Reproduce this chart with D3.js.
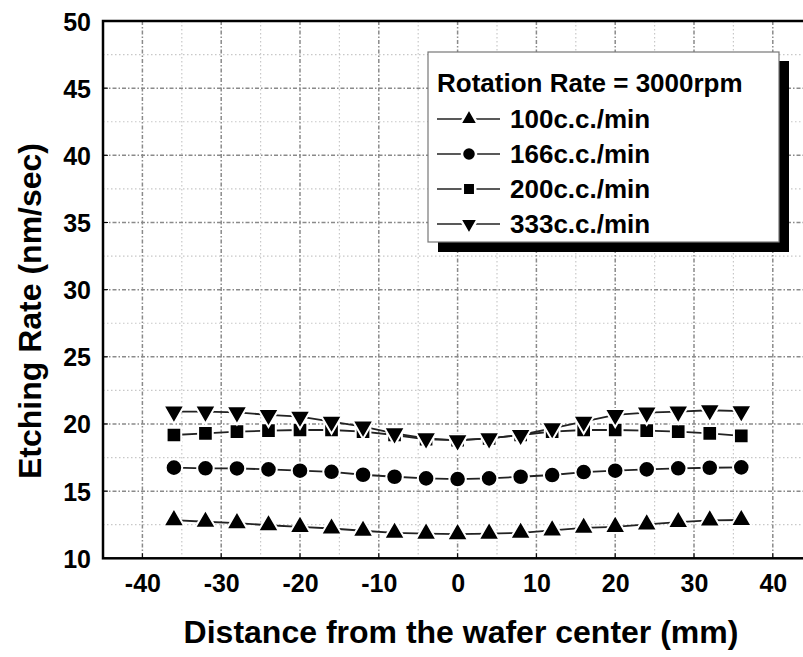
<!DOCTYPE html>
<html><head><meta charset="utf-8">
<script src="https://cdn.jsdelivr.net/npm/d3@7"></script>
<style>
body{margin:0;background:#fff;}
text{font-family:"Liberation Sans",Arial,sans-serif;font-weight:bold;fill:#000;}
</style></head>
<body><svg id="c" width="803" height="657"></svg>
<script>
const positions = [-36,-32,-28,-24,-20,-16,-12,-8,-4,0,4,8,12,16,20,24,28,32,36];
const rate100 = [12.84,12.72,12.62,12.46,12.34,12.22,12.05,11.9,11.84,11.8,11.84,11.9,12.08,12.27,12.34,12.52,12.7,12.82,12.85];
const rate166 = [16.75,16.7,16.69,16.62,16.52,16.44,16.22,16.07,15.95,15.9,15.95,16.07,16.2,16.42,16.52,16.62,16.7,16.74,16.77];
const rate200 = [19.18,19.3,19.43,19.5,19.55,19.55,19.43,19.18,18.86,18.8,18.93,19.18,19.43,19.55,19.55,19.5,19.43,19.3,19.12];
const rate333 = [20.92,20.92,20.87,20.67,20.54,20.17,19.8,19.3,18.93,18.78,18.93,19.18,19.68,20.17,20.67,20.85,20.92,21.02,20.95];
const seriesNames = ["100c.c./min","166c.c./min","200c.c./min","333c.c./min"];
const xTicks = [-40,-30,-20,-10,0,10,20,30,40];
const yTicks = [10,15,20,25,30,35,40,45,50];
const legendTitle = "Rotation Rate = 3000rpm";
const xTitle = "Distance from the wafer center (mm)";
const yTitle = "Etching Rate (nm/sec)";

const series = [
  {name: seriesNames[0], values: rate100, sym: d3.symbolTriangle, size: 190, rot: 0},
  {name: seriesNames[1], values: rate166, sym: d3.symbolCircle, size: 215, rot: 0},
  {name: seriesNames[2], values: rate200, sym: d3.symbolSquare, size: 215, rot: 0},
  {name: seriesNames[3], values: rate333, sym: d3.symbolTriangle, size: 190, rot: 180}
];

const svg = d3.select("#c");
const L = 103, T = 21, B = 558.3;
const x = d3.scaleLinear().domain([-45, 45]).range([L, L + 90 * 7.88]);
const y = d3.scaleLinear().domain([10, 50]).range([B, T]);
const R = x(45);

const g = svg.append("g");
// minor grid
const minorX = d3.range(-35, 45, 10);
const minorY = d3.range(12.5, 50, 5);
g.selectAll(".mx").data(minorX).enter().append("line")
  .attr("x1", d => x(d)).attr("x2", d => x(d)).attr("y1", T).attr("y2", B)
  .attr("stroke", "#c8c8c8").attr("stroke-width", 1.2).attr("stroke-dasharray", "1.5,2.5");
g.selectAll(".my").data(minorY).enter().append("line")
  .attr("y1", d => y(d)).attr("y2", d => y(d)).attr("x1", L).attr("x2", R)
  .attr("stroke", "#c8c8c8").attr("stroke-width", 1.2).attr("stroke-dasharray", "1.5,2.5");
// major grid
g.selectAll(".Mx").data(xTicks).enter().append("line")
  .attr("x1", d => x(d)).attr("x2", d => x(d)).attr("y1", T).attr("y2", B)
  .attr("stroke", "#8a8a8a").attr("stroke-width", 1.5).attr("stroke-dasharray", "4,2,1.5,2");
g.selectAll(".My").data(yTicks.slice(1, -1)).enter().append("line")
  .attr("y1", d => y(d)).attr("y2", d => y(d)).attr("x1", L).attr("x2", R)
  .attr("stroke", "#8a8a8a").attr("stroke-width", 1.5).attr("stroke-dasharray", "4,2,1.5,2");

// axes
const xAxis = d3.axisBottom(x).tickValues(xTicks).tickSize(0).tickPadding(0).tickFormat(d => String(d));
const xa = svg.append("g").attr("transform", `translate(0,${B})`).call(xAxis);
xa.select(".domain").remove();
xa.selectAll("text").attr("font-size", 25).attr("dy", null).attr("y", 34)
  .attr("font-family", "Liberation Sans, Arial, sans-serif").attr("font-weight", "bold").attr("fill", "#000");
const yAxis = d3.axisLeft(y).tickValues(yTicks).tickSize(0).tickPadding(0).tickFormat(d => String(d));
const ya = svg.append("g").attr("transform", `translate(${L},0)`).call(yAxis);
ya.select(".domain").remove();
ya.selectAll("text").attr("font-size", 25).attr("x", -12).attr("dy", "0.36em")
  .attr("font-family", "Liberation Sans, Arial, sans-serif").attr("font-weight", "bold").attr("fill", "#000");

// tick marks inward
svg.append("g").selectAll("line").data(xTicks).enter().append("line")
  .attr("x1", d => x(d)).attr("x2", d => x(d)).attr("y1", B).attr("y2", B - 5)
  .attr("stroke", "#000").attr("stroke-width", 1);
svg.append("g").selectAll("line").data(yTicks).enter().append("line")
  .attr("x1", L).attr("x2", L + 5).attr("y1", d => y(d)).attr("y2", d => y(d))
  .attr("stroke", "#000").attr("stroke-width", 1);

// frame
svg.append("rect").attr("x", L).attr("y", T).attr("width", R - L).attr("height", B - T)
  .attr("fill", "none").attr("stroke", "#000").attr("stroke-width", 2.5);

// titles
svg.append("text").attr("x", 461).attr("y", 643).attr("text-anchor", "middle")
  .attr("font-size", 32).text(xTitle);
svg.append("text").attr("transform", "translate(41,311) rotate(-90)").attr("text-anchor", "middle")
  .attr("font-size", 32).text(yTitle);

// series
const line = d3.line().x((d, i) => x(positions[i])).y(d => y(d));
series.forEach(s => {
  svg.append("path").datum(s.values).attr("d", line)
    .attr("fill", "none").attr("stroke", "#222").attr("stroke-width", 1.8);
});
series.forEach(s => {
  svg.append("g").selectAll("path").data(s.values).enter().append("path")
    .attr("d", d3.symbol().type(s.sym).size(s.size))
    .attr("transform", (d, i) => `translate(${x(positions[i])},${y(d)}) rotate(${s.rot})`)
    .attr("fill", "#000").attr("stroke", "#fff").attr("stroke-width", 2);
});

// legend
const lg = svg.append("g");
lg.append("rect").attr("x", 438).attr("y", 61).attr("width", 351).attr("height", 191).attr("fill", "#000");
lg.append("rect").attr("x", 428).attr("y", 52).attr("width", 351).attr("height", 190)
  .attr("fill", "#fff").attr("stroke", "#777").attr("stroke-width", 1.2);
lg.append("text").attr("x", 437).attr("y", 92).attr("font-size", 26).text(legendTitle);
series.forEach((s, i) => {
  const cy = 119 + i * 35;
  lg.append("line").attr("x1", 437).attr("x2", 500).attr("y1", cy).attr("y2", cy)
    .attr("stroke", "#222").attr("stroke-width", 1.5);
  lg.append("path").attr("d", d3.symbol().type(s.sym).size(s.size * 0.72))
    .attr("transform", `translate(469,${cy}) rotate(${s.rot})`)
    .attr("fill", "#000").attr("stroke", "#fff").attr("stroke-width", 2.5);
  lg.append("text").attr("x", 510).attr("y", cy + 9).attr("font-size", 26).text(s.name);
});
</script></body></html>
